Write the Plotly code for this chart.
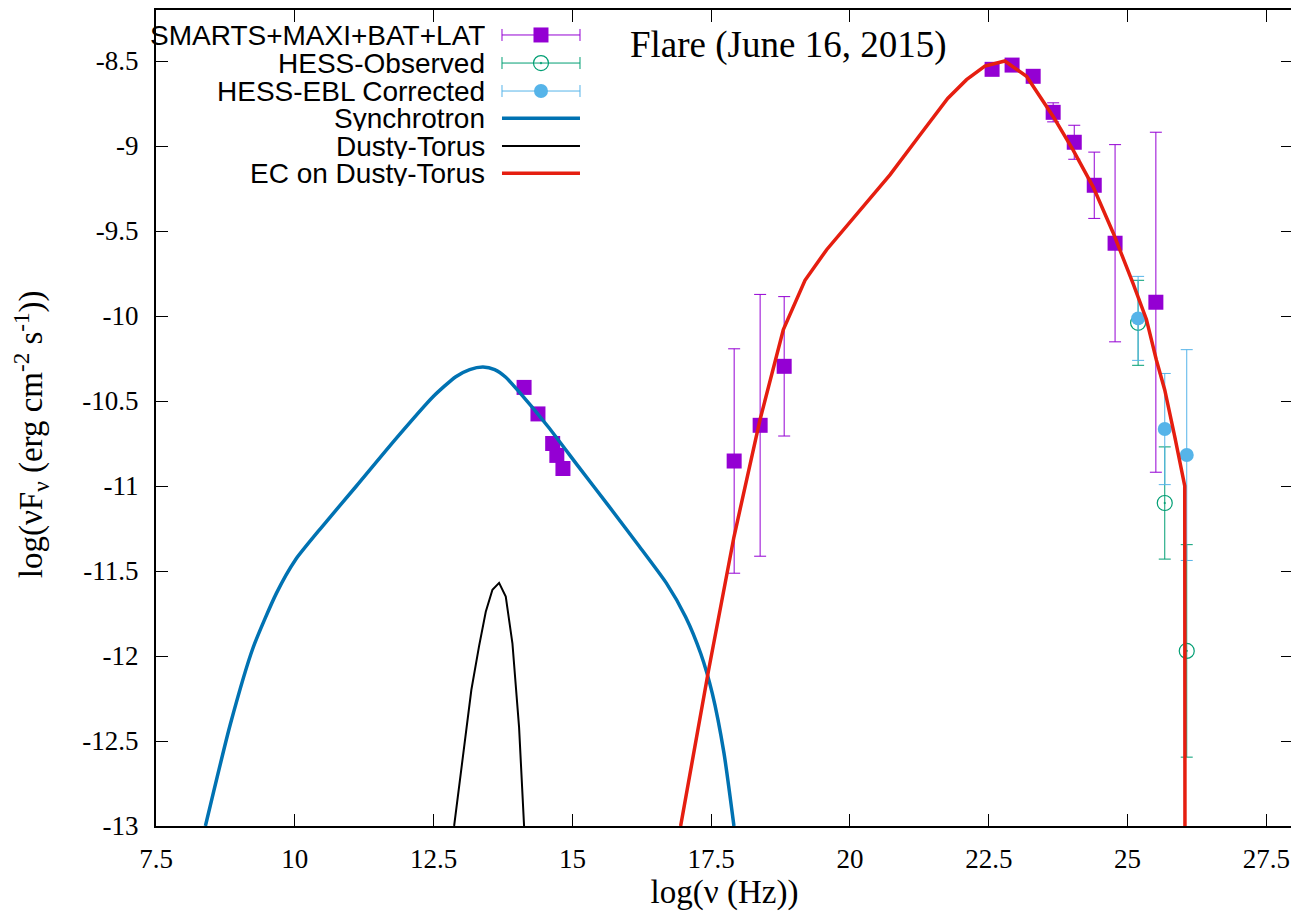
import plotly.graph_objects as go

# ---------------- data ----------------
sed_x = [14.13, 14.38, 14.645, 14.72, 14.83,
         17.914, 18.382, 18.815,
         22.56, 22.92, 23.30, 23.66, 24.04, 24.40, 24.775, 25.51]
sed_y = [-10.42, -10.576, -10.75, -10.82, -10.897,
         -10.853, -10.643, -10.296,
         -8.549, -8.524, -8.59, -8.802, -8.978, -9.231, -9.572, -9.919]
sed_err = [0, 0, 0, 0, 0,
           0.66, 0.77, 0.41,
           0, 0, 0, 0.056, 0.10, 0.195, 0.58, 1.0]

hess_x = [25.19, 25.67, 26.066]
hess_obs_y = [-10.04, -11.10, -11.97]
hess_obs_err = [0.25, 0.33, 0.625]
hess_ebl_y = [-10.014, -10.665, -10.818]
hess_ebl_err = [0.247, 0.327, 0.62]

sync_x = [8.39, 8.84, 9.25, 9.67, 10.01, 10.49, 11.11, 11.80, 12.49, 12.90,
          13.15, 13.39, 13.60, 13.80, 14.01, 14.56, 15.11, 15.66, 16.21,
          16.69, 17.04, 17.31, 17.52, 17.73, 17.91]
sync_y = [-13.0, -12.40, -11.95, -11.63, -11.435, -11.24, -11.0, -10.73,
          -10.475, -10.357, -10.315, -10.30, -10.315, -10.36, -10.435,
          -10.65, -10.886, -11.12, -11.357, -11.57, -11.77, -11.984, -12.22,
          -12.57, -13.0]

torus_x = [12.87, 13.04, 13.18, 13.32, 13.44, 13.56, 13.68, 13.80, 13.92,
           14.04, 14.13]
torus_y = [-13.0, -12.55, -12.2, -11.94, -11.74, -11.61, -11.57, -11.65,
           -11.925, -12.42, -13.0]

ec_x = [16.95, 17.45, 17.91, 18.38, 18.80, 19.19, 19.58, 20.0, 20.72, 21.25,
        21.76, 22.10, 22.43, 22.79, 23.18, 23.66, 24.02, 24.38, 24.74, 25.10,
        25.34, 25.52, 25.67, 25.85, 26.03, 26.035]
ec_y = [-13.0, -12.09, -11.30, -10.61, -10.08, -9.79, -9.61, -9.45, -9.17,
        -8.94, -8.72, -8.61, -8.53, -8.50, -8.59, -8.826, -9.024, -9.24,
        -9.51, -9.81, -10.02, -10.26, -10.435, -10.71, -11.0, -13.5]

x_ticks = [7.5, 10, 12.5, 15, 17.5, 20, 22.5, 25, 27.5]
x_tick_labels = ["7.5", "10", "12.5", "15", "17.5", "20", "22.5", "25", "27.5"]
y_ticks = [-8.5, -9, -9.5, -10, -10.5, -11, -11.5, -12, -12.5, -13]
y_tick_labels = ["-8.5", "-9", "-9.5", "-10", "-10.5", "-11", "-11.5", "-12",
                 "-12.5", "-13"]

legend_labels = ["SMARTS+MAXI+BAT+LAT", "HESS-Observed", "HESS-EBL Corrected",
                 "Synchrotron", "Dusty-Torus", "EC on Dusty-Torus"]

# ---------------- styles ----------------
C_PURPLE = "#9400d3"
C_GREEN = "#009e73"
C_LBLUE = "#56b4e9"
C_BLUE = "#0072b2"
C_RED = "#e51e10"
C_BLACK = "#000000"
SERIF = "Liberation Serif"
SANS = "Liberation Sans"

fig = go.Figure()

fig.add_trace(go.Scatter(
    x=sed_x, y=sed_y, mode="markers",
    marker=dict(symbol="square", size=15, color=C_PURPLE),
    error_y=dict(type="data", array=sed_err, color=C_PURPLE, thickness=1, width=6),
    showlegend=False))
fig.add_trace(go.Scatter(
    x=hess_x, y=hess_obs_y, mode="markers",
    marker=dict(symbol="circle-open-dot", size=15, color=C_GREEN,
                line=dict(width=1.2, color=C_GREEN)),
    error_y=dict(type="data", array=hess_obs_err, color=C_GREEN, thickness=1, width=6),
    showlegend=False))
fig.add_trace(go.Scatter(
    x=hess_x, y=hess_ebl_y, mode="markers",
    marker=dict(symbol="circle", size=14, color=C_LBLUE),
    error_y=dict(type="data", array=hess_ebl_err, color=C_LBLUE, thickness=1, width=6),
    showlegend=False))
fig.add_trace(go.Scatter(
    x=sync_x, y=sync_y, mode="lines",
    line=dict(color=C_BLUE, width=3.5, shape="spline", smoothing=0.6),
    showlegend=False))
fig.add_trace(go.Scatter(
    x=torus_x, y=torus_y, mode="lines",
    line=dict(color=C_BLACK, width=2),
    showlegend=False))
fig.add_trace(go.Scatter(
    x=ec_x, y=ec_y, mode="lines",
    line=dict(color=C_RED, width=3.5),
    showlegend=False))

# ---------------- custom gnuplot-style key ----------------
key_rows = [0.9694, 0.9350, 0.9007, 0.8673, 0.8333, 0.7999]
key_x0, key_x1 = 0.3043, 0.3729
key_xc = (key_x0 + key_x1) / 2
key_half = (key_x1 - key_x0) / 2
key_text_x = 0.2905

point_styles = [
    dict(symbol="square", size=15, color=C_PURPLE),
    dict(symbol="circle-open-dot", size=15, color=C_GREEN, line=dict(width=1.2, color=C_GREEN)),
    dict(symbol="circle", size=14, color=C_LBLUE),
]
point_colors = [C_PURPLE, C_GREEN, C_LBLUE]
for i in range(3):
    fig.add_trace(go.Scatter(
        x=[key_xc], y=[key_rows[i]], xaxis="x2", yaxis="y2", mode="markers",
        marker=point_styles[i],
        error_x=dict(type="constant", value=key_half, color=point_colors[i],
                     thickness=1, width=6),
        showlegend=False, hoverinfo="skip"))
line_styles = [(C_BLUE, 3.5), (C_BLACK, 2), (C_RED, 3.5)]
for j, (col, w) in enumerate(line_styles):
    fig.add_trace(go.Scatter(
        x=[key_x0, key_x1], y=[key_rows[3 + j]] * 2, xaxis="x2", yaxis="y2",
        mode="lines", line=dict(color=col, width=w),
        showlegend=False, hoverinfo="skip"))

annotations = []
for lab, yy in zip(legend_labels, key_rows):
    annotations.append(dict(
        text=lab, x=key_text_x, y=yy, xref="paper", yref="paper",
        xanchor="right", yanchor="middle", showarrow=False,
        height=26, valign="middle", borderpad=0,
        font=dict(family=SANS, size=28, color="black")))
annotations.append(dict(
    text="Flare (June 16, 2015)", x=0.415, y=0.957, xref="paper", yref="paper",
    xanchor="left", yanchor="middle", showarrow=False,
    font=dict(family=SERIF, size=37, color="black")))
annotations.append(dict(
    text="log(νF<sub>ν</sub> (erg cm<sup>-2</sup> s<sup>-1</sup>))",
    x=-0.1100, y=0.48, xref="paper", yref="paper", textangle=-90,
    xanchor="center", yanchor="middle", showarrow=False, borderpad=0,
    font=dict(family=SERIF, size=33, color="black")))

axis_common = dict(
    ticks="inside", ticklen=12, tickwidth=1, tickcolor="black",
    showline=True, linewidth=2, linecolor="black", mirror="ticks",
    showgrid=False, zeroline=False, automargin=False,
    tickfont=dict(family=SERIF, size=27, color="black"),
)

# the page body adds an 8 px offset, so the figure is 8 px smaller than the window
fig.update_layout(
    width=1291, height=907,
    margin=dict(l=148, r=6, t=2, b=89),
    font=dict(family=SERIF, size=27, color="black"),
    paper_bgcolor="white", plot_bgcolor="white",
    xaxis=dict(range=[7.5, 27.98], tickmode="array", tickvals=x_ticks,
               ticktext=x_tick_labels, ticklabelstandoff=8,
               title=dict(text="log(ν (Hz))", standoff=6,
                          font=dict(family=SERIF, size=33, color="black")),
               **axis_common),
    yaxis=dict(range=[-13, -8.2], tickmode="array", tickvals=y_ticks,
               ticktext=y_tick_labels, ticklabelstandoff=10,
               **axis_common),
    xaxis2=dict(domain=[0, 1], range=[0, 1], overlaying="x", anchor="y2",
                visible=False, fixedrange=True),
    yaxis2=dict(domain=[0, 1], range=[0, 1], overlaying="y", anchor="x2",
                visible=False, fixedrange=True),
    annotations=annotations,
    showlegend=False,
)

fig.write_html("out.html")
